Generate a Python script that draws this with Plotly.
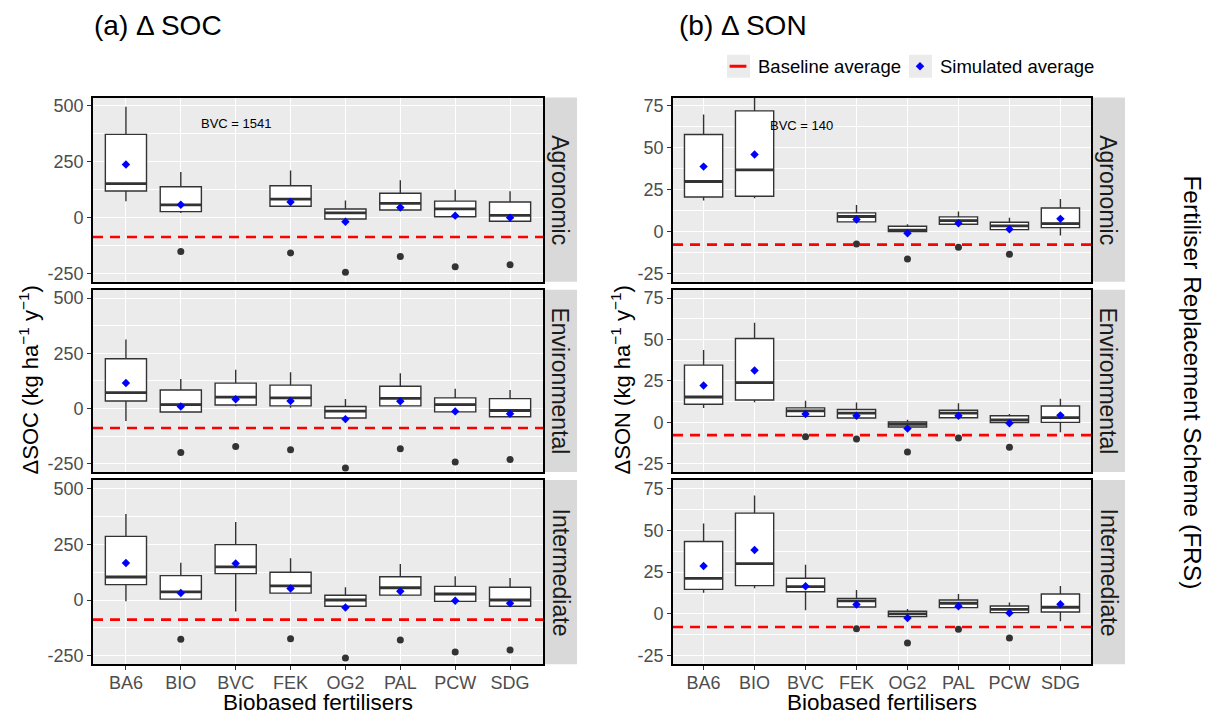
import plotly.graph_objects as go
from plotly.subplots import make_subplots

categories = ["BA6", "BIO", "BVC", "FEK", "OG2", "PAL", "PCW", "SDG"]
schemes = ["Agronomic", "Environmental", "Intermediate"]

soc_tickvals = [-250, 0, 250, 500]
soc_ticktext = ["-250", "0", "250", "500"]
son_tickvals = [-25, 0, 25, 50, 75]
son_ticktext = ["-25", "0", "25", "50", "75"]

# ---- Delta SOC (rows: Agronomic, Environmental, Intermediate) ----
soc_low = [[73, 21, None, 48, -8, 30, 2, -18],
           [-57, -19, 10, 4, -46, 8, -18, -40],
           [-6, 1, -52, 28, -31, 19, -9, -31]]
soc_q1 = [[119, 27, None, 51, -6, 34, 4, -16],
          [34, -16, 16, 12, -43, 12, -15, -37],
          [69, 4, 118, 31, -28, 22, -6, -28]]
soc_med = [[152, 57, None, 83, 21, 64, 39, 10],
           [72, 18, 52, 48, -12, 46, 18, -9],
           [103, 36, 148, 63, 0, 55, 27, 0]]
soc_q3 = [[373, 138, None, 143, 39, 109, 74, 70],
          [225, 84, 115, 106, 9, 101, 48, 45],
          [285, 109, 248, 124, 21, 104, 61, 57]]
soc_high = [[497, 204, None, 211, 77, 168, 125, 118],
            [313, 134, 175, 164, 43, 160, 90, 84],
            [385, 167, 349, 187, 57, 161, 106, 99]]
soc_mean = [[238, 58, None, 70, -18, 45, 9, 0],
            [116, 9, 42, 34, -48, 33, -13, -24],
            [166, 31, 164, 52, -34, 39, -3, -15]]
soc_out = [[None, -152, None, -158, -245, -174, -220, -211],
           [None, -199, -172, -187, -269, -182, -242, -231],
           [None, -176, None, -173, -260, -179, -233, -224]]
soc_baseline = [-87, -88, -88]

# ---- Delta SON ----
son_low = [[18.5, 19.9, None, 5.5, -0.3, 4.2, 1.0, -2.4],
           [8.7, 12.1, 3.4, 2.4, -3.0, 2.6, -0.4, -6.0],
           [12.7, 15.3, 2.2, 4.0, -1.8, 3.6, 0.6, -4.4]]
son_q1 = [[20.7, 21.1, None, 5.8, 0.0, 4.4, 1.2, 2.4],
          [10.9, 13.5, 3.6, 2.6, -2.8, 2.8, -0.2, 0.0],
          [14.7, 16.9, 13.3, 4.2, -1.6, 3.8, 0.8, 1.2]]
son_med = [[29.9, 36.9, None, 9.0, 0.8, 6.6, 3.4, 4.8],
           [15.3, 24.0, 6.9, 5.6, -1.2, 5.6, 1.4, 2.8],
           [21.3, 30.0, 16.3, 7.8, 0.0, 6.4, 2.8, 4.0]]
son_q3 = [[58.0, 72.1, None, 11.2, 3.2, 8.8, 5.6, 14.1],
          [34.5, 50.6, 8.7, 7.7, 0.2, 7.3, 4.0, 9.9],
          [43.3, 60.2, 21.3, 9.3, 1.6, 8.3, 4.8, 11.9]]
son_high = [[69.9, 86.0, None, 15.9, 4.4, 12.0, 8.2, 19.5],
            [43.7, 60.1, 13.1, 11.9, 1.6, 11.5, 5.0, 14.3],
            [54.0, 70.8, 29.4, 14.3, 3.0, 11.9, 6.8, 16.7]]
son_mean = [[38.8, 46.0, None, 7.2, -1.0, 5.0, 1.4, 7.6],
            [22.2, 31.3, 5.0, 4.0, -3.8, 4.0, -0.6, 4.2],
            [28.6, 38.2, 16.5, 5.6, -2.4, 4.6, 0.6, 5.8]]
son_out = [[None, None, None, -7.4, -16.3, -9.4, -13.5, None],
           [None, None, -8.7, -10.1, -17.9, -9.5, -15.1, None],
           [None, None, None, -8.9, -17.3, -9.1, -14.3, None]]
son_baseline = [-7.8, -7.7, -7.8]

bvc_notes = [("BVC = 1541", 3.0, 422), ("BVC = 140", 2.93, 63.5)]

FONT = "Liberation Sans, Arial, sans-serif"
OFF = 8                      # page body margin of the html page
W, H = 1213 - OFF, 715 - OFF
BOX_W = 0.75


def px(x):
    return (x - OFF) / W


def py(y):
    return 1 - (y - OFF) / H


fig = make_subplots(rows=3, cols=2)

col_px = [(93, 543), (673, 1091)]
row_px = [(97, 282), (290, 473), (481, 666)]

variables = [
    (soc_low, soc_q1, soc_med, soc_q3, soc_high, soc_mean, soc_out, soc_baseline,
     [-287.5, 537.5], soc_tickvals, soc_ticktext, [-125, 125, 375]),
    (son_low, son_q1, son_med, son_q3, son_high, son_mean, son_out, son_baseline,
     [-30, 80], son_tickvals, son_ticktext, [-12.5, 12.5, 37.5, 62.5]),
]

for c, (lo, q1, md, q3, hi, mn, out, base, yr, tv, tt, minor) in enumerate(variables):
    for r in range(3):
        idx = [i for i in range(len(categories)) if q1[r][i] is not None]
        pos = [i + 1 for i in idx]
        fig.add_trace(go.Box(
            x=pos, q1=[q1[r][i] for i in idx], median=[md[r][i] for i in idx],
            q3=[q3[r][i] for i in idx], lowerfence=[lo[r][i] for i in idx],
            upperfence=[hi[r][i] for i in idx], width=BOX_W, whiskerwidth=0,
            fillcolor="white", line=dict(color="#333333", width=1.4),
            boxpoints=False, showlegend=False, hoverinfo="skip"),
            row=r + 1, col=c + 1)
        # thicker median bars
        mx, my = [], []
        for i in idx:
            mx += [i + 1 - BOX_W / 2, i + 1 + BOX_W / 2, None]
            my += [md[r][i], md[r][i], None]
        fig.add_trace(go.Scatter(x=mx, y=my, mode="lines",
                                 line=dict(color="#333333", width=2.8),
                                 showlegend=False, hoverinfo="skip"),
                      row=r + 1, col=c + 1)
        # outliers
        oi = [i for i in range(len(categories)) if out[r][i] is not None]
        fig.add_trace(go.Scatter(x=[i + 1 for i in oi], y=[out[r][i] for i in oi],
                                 mode="markers",
                                 marker=dict(color="#333333", size=7),
                                 showlegend=False, hoverinfo="skip"),
                      row=r + 1, col=c + 1)
        # baseline
        fig.add_trace(go.Scatter(x=[0.4, 8.6], y=[base[r], base[r]], mode="lines",
                                 line=dict(color="#FF0000", width=2.6, dash="10px,7px"),
                                 showlegend=False, hoverinfo="skip"),
                      row=r + 1, col=c + 1)
        # means
        fig.add_trace(go.Scatter(x=pos, y=[mn[r][i] for i in idx],
                                 mode="markers",
                                 marker=dict(color="#0000FF", size=6.5, symbol="diamond"),
                                 showlegend=False, hoverinfo="skip"),
                      row=r + 1, col=c + 1)

        xd = [px(col_px[c][0]), px(col_px[c][1])]
        yd = [py(row_px[r][1]), py(row_px[r][0])]
        bottom = (r == 2)
        fig.update_xaxes(domain=xd, range=[0.4, 8.6], tickvals=list(range(1, 9)),
                         ticktext=categories, showticklabels=bottom,
                         ticks="outside" if bottom else "", ticklen=4, tickwidth=1.1,
                         tickcolor="#333333", ticklabelstandoff=-3,
                         tickfont=dict(size=18, color="#4D4D4D", family=FONT),
                         showgrid=True, gridcolor="white", gridwidth=1.2,
                         showline=True, mirror=True, linecolor="black", linewidth=1.7,
                         zeroline=False, row=r + 1, col=c + 1)
        fig.update_yaxes(domain=yd, range=yr, tickvals=tv, ticktext=tt,
                         ticks="outside", ticklen=4, tickwidth=1.1, tickcolor="#333333",
                         tickfont=dict(size=18, color="#4D4D4D", family=FONT),
                         showgrid=True, gridcolor="white", gridwidth=1.2,
                         minor=dict(tickvals=minor, showgrid=True, gridcolor="white",
                                    gridwidth=0.6, ticklen=0),
                         showline=True, mirror=True, linecolor="black", linewidth=1.7,
                         zeroline=False, row=r + 1, col=c + 1)

        # strip
        sx0 = col_px[c][1] + 1
        sx1 = sx0 + 33
        fig.add_shape(type="rect", xref="paper", yref="paper",
                      x0=px(sx0), x1=px(sx1), y0=yd[0], y1=yd[1],
                      fillcolor="#D9D9D9", line=dict(width=0), layer="below")
        fig.add_annotation(xref="paper", yref="paper", x=px((sx0 + sx1) / 2),
                           y=(yd[0] + yd[1]) / 2, xanchor="center", yanchor="middle",
                           text=schemes[r], textangle=90,
                           showarrow=False, font=dict(size=23, color="#1A1A1A", family=FONT))

# BVC notes
fig.add_annotation(xref="x", yref="y", x=bvc_notes[0][1], y=bvc_notes[0][2],
                   text=bvc_notes[0][0], showarrow=False,
                   font=dict(size=13, color="black", family=FONT))
fig.add_annotation(xref="x2", yref="y2", x=bvc_notes[1][1], y=bvc_notes[1][2],
                   text=bvc_notes[1][0], showarrow=False,
                   font=dict(size=13, color="black", family=FONT))

# legend entries
fig.add_trace(go.Scatter(x=[None], y=[None], mode="markers", name="Baseline average",
                         marker=dict(symbol="line-ew", size=12,
                                     line=dict(color="#FF0000", width=3)),
                         legend="legend"))
fig.add_trace(go.Scatter(x=[None], y=[None], mode="markers", name="Simulated average",
                         marker=dict(symbol="diamond", size=6.5, color="#0000FF"),
                         legend="legend2"))

for x0 in (727, 909):
    fig.add_shape(type="rect", xref="paper", yref="paper",
                  x0=px(x0), x1=px(x0 + 23), y0=py(77), y1=py(54),
                  fillcolor="#EBEBEB", line=dict(width=0), layer="below")

# titles
fig.add_annotation(xref="paper", yref="paper", x=px(92), y=py(25),
                   xanchor="left", yanchor="middle", text="(a) Δ SOC", showarrow=False,
                   font=dict(size=28, color="black", family=FONT))
fig.add_annotation(xref="paper", yref="paper", x=px(677), y=py(25),
                   xanchor="left", yanchor="middle", text="(b) Δ SON", showarrow=False,
                   font=dict(size=28, color="black", family=FONT))
fig.add_annotation(xref="paper", yref="paper", x=px(29), y=py(381),
                   xanchor="center", yanchor="middle",
                   text="ΔSOC (kg ha<sup>−1</sup> y<sup>−1</sup>)", textangle=-90,
                   showarrow=False, font=dict(size=22, color="black", family=FONT))
fig.add_annotation(xref="paper", yref="paper", x=px(621), y=py(381),
                   xanchor="center", yanchor="middle",
                   text="ΔSON (kg ha<sup>−1</sup> y<sup>−1</sup>)", textangle=-90,
                   showarrow=False, font=dict(size=22, color="black", family=FONT))
fig.add_annotation(xref="paper", yref="paper", x=px(1193), y=py(383),
                   xanchor="center", yanchor="middle",
                   text="Fertiliser Replacement Scheme (FRS)", textangle=90,
                   showarrow=False, font=dict(size=24.5, color="black", family=FONT))
for cx in (318, 882):
    fig.add_annotation(xref="paper", yref="paper", x=px(cx), y=py(704),
                       xanchor="center", yanchor="middle",
                       text="Biobased fertilisers", showarrow=False,
                       font=dict(size=22.5, color="black", family=FONT))

fig.update_layout(
    width=W, height=H, margin=dict(l=0, r=0, t=0, b=0),
    plot_bgcolor="#EBEBEB", paper_bgcolor="white",
    font=dict(family=FONT),
    legend=dict(x=px(718), y=py(66), xanchor="left", yanchor="middle",
                orientation="h", bgcolor="rgba(0,0,0,0)",
                font=dict(size=18.5, color="black", family=FONT)),
    legend2=dict(x=px(900), y=py(66), xanchor="left", yanchor="middle",
                 orientation="h", bgcolor="rgba(0,0,0,0)",
                 font=dict(size=18.5, color="black", family=FONT)),
)

fig.write_html("out.html")
